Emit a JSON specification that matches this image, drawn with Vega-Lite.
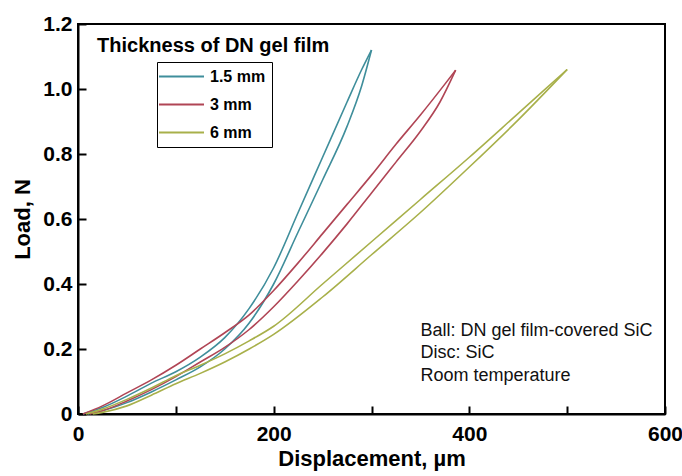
{
  "$schema": "https://vega.github.io/schema/vega-lite/v6.json",
  "width": 587,
  "height": 390,
  "autosize": {"type": "none"},
  "padding": {"left": 78, "top": 24, "right": 17, "bottom": 62},
  "background": "white",
  "datasets": {
    "curves": [
      {"t": "1.5 mm", "b": "A", "x": 5, "y": 0}, {"t": "1.5 mm", "b": "A", "x": 25, "y": 0.02}, {"t": "1.5 mm", "b": "A", "x": 50, "y": 0.055}, {"t": "1.5 mm", "b": "A", "x": 75, "y": 0.095}, {"t": "1.5 mm", "b": "A", "x": 100, "y": 0.13}, {"t": "1.5 mm", "b": "A", "x": 125, "y": 0.175}, {"t": "1.5 mm", "b": "A", "x": 150, "y": 0.235}, {"t": "1.5 mm", "b": "A", "x": 175, "y": 0.325}, {"t": "1.5 mm", "b": "A", "x": 200, "y": 0.45}, {"t": "1.5 mm", "b": "A", "x": 225, "y": 0.62}, {"t": "1.5 mm", "b": "A", "x": 250, "y": 0.79}, {"t": "1.5 mm", "b": "A", "x": 275, "y": 0.96}, {"t": "1.5 mm", "b": "A", "x": 290, "y": 1.06}, {"t": "1.5 mm", "b": "A", "x": 300, "y": 1.12},
      {"t": "1.5 mm", "b": "B", "x": 10, "y": 0}, {"t": "1.5 mm", "b": "B", "x": 25, "y": 0.01}, {"t": "1.5 mm", "b": "B", "x": 50, "y": 0.035}, {"t": "1.5 mm", "b": "B", "x": 75, "y": 0.068}, {"t": "1.5 mm", "b": "B", "x": 100, "y": 0.105}, {"t": "1.5 mm", "b": "B", "x": 125, "y": 0.145}, {"t": "1.5 mm", "b": "B", "x": 150, "y": 0.2}, {"t": "1.5 mm", "b": "B", "x": 175, "y": 0.28}, {"t": "1.5 mm", "b": "B", "x": 200, "y": 0.4}, {"t": "1.5 mm", "b": "B", "x": 225, "y": 0.56}, {"t": "1.5 mm", "b": "B", "x": 250, "y": 0.72}, {"t": "1.5 mm", "b": "B", "x": 275, "y": 0.885}, {"t": "1.5 mm", "b": "B", "x": 290, "y": 1.01}, {"t": "1.5 mm", "b": "B", "x": 300, "y": 1.12},
      {"t": "3 mm", "b": "A", "x": 5, "y": 0}, {"t": "3 mm", "b": "A", "x": 25, "y": 0.025}, {"t": "3 mm", "b": "A", "x": 50, "y": 0.065}, {"t": "3 mm", "b": "A", "x": 75, "y": 0.105}, {"t": "3 mm", "b": "A", "x": 100, "y": 0.15}, {"t": "3 mm", "b": "A", "x": 125, "y": 0.2}, {"t": "3 mm", "b": "A", "x": 150, "y": 0.25}, {"t": "3 mm", "b": "A", "x": 175, "y": 0.305}, {"t": "3 mm", "b": "A", "x": 200, "y": 0.38}, {"t": "3 mm", "b": "A", "x": 225, "y": 0.465}, {"t": "3 mm", "b": "A", "x": 250, "y": 0.555}, {"t": "3 mm", "b": "A", "x": 275, "y": 0.645}, {"t": "3 mm", "b": "A", "x": 300, "y": 0.735}, {"t": "3 mm", "b": "A", "x": 325, "y": 0.83}, {"t": "3 mm", "b": "A", "x": 350, "y": 0.92}, {"t": "3 mm", "b": "A", "x": 375, "y": 1.015}, {"t": "3 mm", "b": "A", "x": 386, "y": 1.058},
      {"t": "3 mm", "b": "B", "x": 12, "y": 0}, {"t": "3 mm", "b": "B", "x": 25, "y": 0.01}, {"t": "3 mm", "b": "B", "x": 50, "y": 0.04}, {"t": "3 mm", "b": "B", "x": 75, "y": 0.075}, {"t": "3 mm", "b": "B", "x": 100, "y": 0.115}, {"t": "3 mm", "b": "B", "x": 125, "y": 0.16}, {"t": "3 mm", "b": "B", "x": 150, "y": 0.205}, {"t": "3 mm", "b": "B", "x": 175, "y": 0.26}, {"t": "3 mm", "b": "B", "x": 200, "y": 0.33}, {"t": "3 mm", "b": "B", "x": 225, "y": 0.41}, {"t": "3 mm", "b": "B", "x": 250, "y": 0.495}, {"t": "3 mm", "b": "B", "x": 275, "y": 0.585}, {"t": "3 mm", "b": "B", "x": 300, "y": 0.68}, {"t": "3 mm", "b": "B", "x": 325, "y": 0.775}, {"t": "3 mm", "b": "B", "x": 350, "y": 0.87}, {"t": "3 mm", "b": "B", "x": 370, "y": 0.96}, {"t": "3 mm", "b": "B", "x": 386, "y": 1.058},
      {"t": "6 mm", "b": "A", "x": 8, "y": 0}, {"t": "6 mm", "b": "A", "x": 25, "y": 0.015}, {"t": "6 mm", "b": "A", "x": 50, "y": 0.045}, {"t": "6 mm", "b": "A", "x": 75, "y": 0.08}, {"t": "6 mm", "b": "A", "x": 100, "y": 0.118}, {"t": "6 mm", "b": "A", "x": 125, "y": 0.15}, {"t": "6 mm", "b": "A", "x": 150, "y": 0.185}, {"t": "6 mm", "b": "A", "x": 175, "y": 0.225}, {"t": "6 mm", "b": "A", "x": 200, "y": 0.27}, {"t": "6 mm", "b": "A", "x": 250, "y": 0.4}, {"t": "6 mm", "b": "A", "x": 300, "y": 0.53}, {"t": "6 mm", "b": "A", "x": 350, "y": 0.66}, {"t": "6 mm", "b": "A", "x": 400, "y": 0.79}, {"t": "6 mm", "b": "A", "x": 450, "y": 0.925}, {"t": "6 mm", "b": "A", "x": 500, "y": 1.06},
      {"t": "6 mm", "b": "B", "x": 15, "y": 0}, {"t": "6 mm", "b": "B", "x": 25, "y": 0.005}, {"t": "6 mm", "b": "B", "x": 50, "y": 0.025}, {"t": "6 mm", "b": "B", "x": 75, "y": 0.058}, {"t": "6 mm", "b": "B", "x": 100, "y": 0.093}, {"t": "6 mm", "b": "B", "x": 125, "y": 0.125}, {"t": "6 mm", "b": "B", "x": 150, "y": 0.16}, {"t": "6 mm", "b": "B", "x": 175, "y": 0.2}, {"t": "6 mm", "b": "B", "x": 200, "y": 0.245}, {"t": "6 mm", "b": "B", "x": 250, "y": 0.36}, {"t": "6 mm", "b": "B", "x": 300, "y": 0.49}, {"t": "6 mm", "b": "B", "x": 350, "y": 0.62}, {"t": "6 mm", "b": "B", "x": 400, "y": 0.76}, {"t": "6 mm", "b": "B", "x": 450, "y": 0.905}, {"t": "6 mm", "b": "B", "x": 500, "y": 1.06}
    ],
    "heading": [
      {"text": "Thickness of DN gel film", "x": 19.5, "y": 1.132}
    ],
    "notes": [
      {"text": "Ball: DN gel film-covered SiC", "x": 350, "y": 0.255},
      {"text": "Disc: SiC", "x": 350, "y": 0.188},
      {"text": "Room temperature", "x": 350, "y": 0.117}
    ]
  },
  "layer": [
    {
      "data": {"name": "curves"},
      "mark": {"type": "line", "strokeWidth": 1.6, "interpolate": "monotone"},
      "encoding": {
        "x": {
          "field": "x", "type": "quantitative",
          "scale": {"domain": [0, 600], "nice": false},
          "axis": {
            "title": "Displacement, µm",
            "values": [0, 100, 200, 300, 400, 500, 600],
            "labelExpr": "datum.value % 200 == 0 ? datum.label : ''",
            "tickSize": -8,
            "labelPadding": 17,
            "titlePadding": 4
          }
        },
        "y": {
          "field": "y", "type": "quantitative",
          "scale": {"domain": [0, 1.2], "nice": false},
          "axis": {
            "title": "Load, N",
            "values": [0, 0.1, 0.2, 0.3, 0.4, 0.5, 0.6, 0.7, 0.8, 0.9, 1.0, 1.1, 1.2],
            "labelExpr": "datum.value == 0 ? '0' : (round(datum.value * 10) % 2 == 0 ? format(datum.value, '.1f') : '')",
            "tickSize": -8,
            "labelPadding": 14,
            "titlePadding": 8
          }
        },
        "color": {
          "field": "t", "type": "nominal",
          "scale": {"domain": ["1.5 mm", "3 mm", "6 mm"], "range": ["#3f8e9b", "#b04555", "#a8b04a"]},
          "legend": {
            "title": null,
            "orient": "none",
            "legendX": 79,
            "legendY": 38,
            "symbolType": "M-3,0H3",
            "symbolSize": 225,
            "symbolOffset": 10,
            "symbolStrokeWidth": 2,
            "labelFontSize": 16,
            "labelFont": "Liberation Sans",
            "labelFontWeight": "bold",
            "labelColor": "black",
            "labelOffset": 20,
            "strokeColor": "black",
            "fillColor": "white",
            "padding": 6,
            "rowPadding": 11
          }
        },
        "detail": {"field": "b", "type": "nominal"}
      }
    },
    {
      "data": {"name": "heading"},
      "mark": {"type": "text", "align": "left", "baseline": "middle", "font": "Liberation Sans", "fontWeight": "bold", "fontSize": 20, "color": "black"},
      "encoding": {
        "x": {"field": "x", "type": "quantitative"},
        "y": {"field": "y", "type": "quantitative"},
        "text": {"field": "text"}
      }
    },
    {
      "data": {"name": "notes"},
      "mark": {"type": "text", "align": "left", "baseline": "middle", "font": "Liberation Sans", "fontSize": 18, "color": "#111"},
      "encoding": {
        "x": {"field": "x", "type": "quantitative"},
        "y": {"field": "y", "type": "quantitative"},
        "text": {"field": "text"}
      }
    }
  ],
  "config": {
    "view": {"stroke": "black", "strokeWidth": 2},
    "axis": {
      "grid": false,
      "domainColor": "black",
      "domainWidth": 2,
      "tickColor": "black",
      "tickWidth": 2,
      "labelFont": "Liberation Sans",
      "labelFontWeight": "bold",
      "labelFontSize": 21,
      "labelColor": "black",
      "titleFont": "Liberation Sans",
      "titleFontWeight": "bold",
      "titleFontSize": 22,
      "titleColor": "black",
      "labelFlush": false,
      "labelOverlap": false
    }
  }
}
